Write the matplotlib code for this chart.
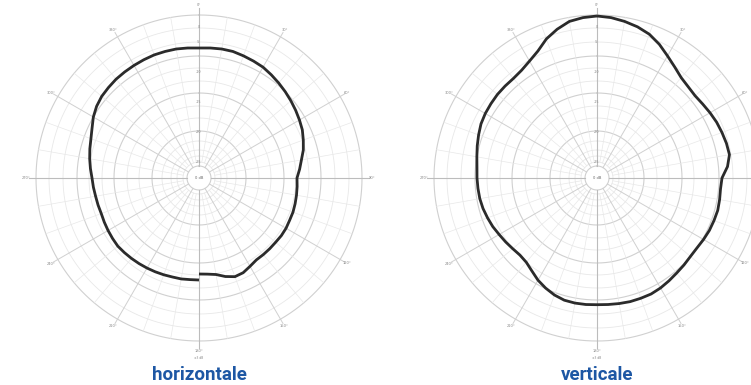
import numpy as np
import matplotlib
matplotlib.use("Agg")
import matplotlib.pyplot as plt

# ---- data (radius in chart units, outer ring = 163) ----
angles_h = list(range(180, -181, -5))
radius_h = [96, 96.5, 98, 102, 105, 104.5, 102, 100, 100, 100, 100, 100.5, 100.5, 100, 100, 99.5, 99, 98.5,
            98, 101, 104, 108, 111, 114, 116, 118, 120, 122, 124, 126, 128, 129, 130, 131, 131, 130.5,
            130, 130.5, 131, 131, 131, 130.5, 130, 129.5, 129, 128, 127, 125, 122, 118, 115, 113, 111, 109,
            107, 106, 105, 104.5, 104, 104.5, 105, 105.5, 106, 105.5, 105, 104.5, 104, 103.5, 103, 102.5,
            102.5, 102, 102]

angles_v = list(range(0, 361, 5))
radius_v = [162, 161, 159, 156.5, 153, 147.5, 141, 135.5, 131, 129, 128, 129, 130.5, 132, 133, 134, 134.5, 131,
            125, 124, 124.5, 125, 124.5, 124, 123, 122, 122, 123, 124, 125.5, 127, 128, 128, 128, 127.5, 127,
            126.7, 127, 127, 126.5, 124.5, 121.5, 118, 113.5, 110, 109, 110, 111.5, 113, 115, 116.5, 118, 119, 119.5,
            120, 120.5, 122, 124, 126, 128, 129, 129.5, 130, 130, 130, 131.5, 135, 140, 148, 154, 159, 161, 162]

titles = ["horizontale", "verticale"]
angle_labels = ["0°", "30°", "60°", "90°", "120°", "150°", "180°", "210°", "240°", "270°", "300°", "330°"]
ring_labels = ["0", "-5", "-10", "-15", "-20", "-25"]
ring_label_r = [151, 136, 106, 76, 46, 16]

W, H = 751, 385
fig = plt.figure(figsize=(W / 100, H / 100), dpi=100)

RLIM = 175
major_rings = [12, 47, 85, 122, 163]
minor_rings = [16, 22, 28, 37, 60, 72, 97, 110, 136, 150]


def polar_panel(cx, cy, ang, rad, title, skip_labels=()):
    left = (cx - RLIM) / W
    bottom = (H - cy - RLIM) / H
    ax = fig.add_axes([left, bottom, 2 * RLIM / W, 2 * RLIM / H], projection="polar")
    ax.set_theta_zero_location("N")
    ax.set_theta_direction(-1)
    ax.set_ylim(0, RLIM)
    ax.grid(False)
    ax.set_xticks([])
    ax.set_yticks([])
    ax.spines["polar"].set_visible(False)
    ax.patch.set_alpha(0)
    t = np.linspace(0, 2 * np.pi, 721)
    for r in minor_rings:
        ax.plot(t, np.full_like(t, r), color="#e8e8e8", lw=0.6, zorder=1)
    for r in major_rings:
        ax.plot(t, np.full_like(t, r), color="#d0d0d0", lw=0.8, zorder=1)
    for a in range(0, 360, 10):
        th = np.deg2rad(a)
        if a % 90 == 0:
            ax.plot([th, th], [12, 170], color="#bcbcbc", lw=0.8, zorder=1)
        elif a % 30 == 0:
            ax.plot([th, th], [12, 168], color="#d0d0d0", lw=0.7, zorder=1)
        else:
            ax.plot([th, th], [16, 163], color="#e8e8e8", lw=0.5, zorder=1)
    for i, lab in enumerate(angle_labels):
        if i in skip_labels:
            continue
        th = np.deg2rad(i * 30)
        ax.text(th, 171 if i % 3 else 173, lab, fontsize=2.6, color="#888888",
                ha="center", va="center", zorder=3)
    ax.text(np.pi, 180, "±3 dB", fontsize=2.2, color="#888888", ha="center", va="center")
    for r, lab in zip(ring_label_r, ring_labels):
        ax.text(0, r, lab, fontsize=2.4, color="#888888", ha="center", va="center", zorder=3)
    ax.text(0, 0, "0 dB", fontsize=2.6, color="#666666", ha="center", va="center", zorder=3)
    ax.plot(np.deg2rad(ang), rad, color="#2b2b2b", lw=2.0, zorder=4,
            solid_joinstyle="round", solid_capstyle="butt")
    fig.text(cx / W, 1 - 375 / H, title, fontsize=13.5, fontweight="bold",
             color="#1d57a4", ha="center", va="center", family="Roboto")
    return ax


polar_panel(199, 178, angles_h, radius_h, titles[0])
polar_panel(597, 178, angles_v, radius_v, titles[1], skip_labels=(3,))

fig.savefig("out.png", dpi=100, facecolor="white")
